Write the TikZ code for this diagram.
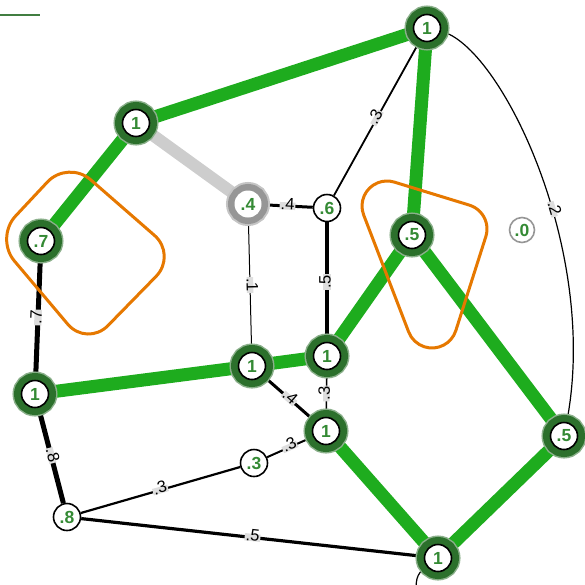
\documentclass[tikz,border=0pt]{standalone}
\usepackage{fontspec}
\setmainfont{Liberation Sans}
\usetikzlibrary{backgrounds}
\definecolor{edgegreen}{RGB}{30,172,30}
\definecolor{halogreen}{RGB}{44,112,44}
\definecolor{txtgreen}{RGB}{52,138,52}
\definecolor{ringorange}{RGB}{230,120,0}
\definecolor{edgegray}{RGB}{205,205,205}
\definecolor{halogray}{RGB}{150,150,150}
\definecolor{labgray}{RGB}{222,222,222}
\tikzset{
  vtx/.style = {circle, fill=white, draw=black, line width=1.6pt, minimum size=27pt, inner sep=0pt, text=txtgreen, font=\fontsize{17.5}{17.5}\selectfont\bfseries},
  hot/.style = {vtx, preaction={draw=halogreen!55, line width=18pt}, preaction={draw=halogreen, line width=15pt}},
  dim/.style = {vtx, draw=none, preaction={draw=halogray!55, line width=17pt}, preaction={draw=halogray, line width=13pt}},
  void/.style = {vtx, draw=halogray, line width=1.6pt, minimum size=25pt},
  tie/.style = {edgegreen, line width=13pt},
  fade/.style = {edgegray, line width=12pt},
  lab/.style = {sloped, fill=labgray, inner xsep=1pt, inner ysep=0pt, text height=7.3pt, text depth=-4.3pt, text=black, font=\fontsize{16.5}{16.5}\selectfont},
  tlab/.style = {lab, text height=6.6pt, text depth=-5.2pt},
  group/.style = {ringorange, line width=3pt}
}
\begin{document}
\begin{tikzpicture}[x=1pt, y=-1pt]
\useasboundingbox (0,0) rectangle (585,584);
\clip (0,0) rectangle (585,584);
\draw[halogreen!90, line width=2pt] (0,15) -- (40,15);
% vertices
\node[hot] (A) at (427,28) {1};
\node[hot] (B) at (136,123) {1};
\node[dim] (C) at (248,204) {.4};
\node[vtx] (D) at (327,208) {.6};
\node[hot] (E) at (412,235) {.5};
\node[void] (F) at (522,230) {.0};
\node[hot] (G) at (41,241) {.7};
\node[hot] (H) at (252,366) {1};
\node[hot] (I) at (327,356) {1};
\node[hot] (J) at (35,394) {1};
\node[hot] (K) at (326,431) {1};
\node[hot] (L) at (564,436) {.5};
\node[vtx] (M) at (254,463) {.3};
\node[vtx] (N) at (67,517) {.8};
\node[hot] (O) at (438,558) {1};
% edges
\begin{scope}[on background layer]
\draw[tie] (A) -- (B);
\draw[tie] (A) -- (E);
\draw[tie] (B) -- (G);
\draw[tie] (J) -- (H);
\draw[tie] (H) -- (I);
\draw[tie] (I) -- (E);
\draw[tie] (E) -- (L);
\draw[tie] (K) -- (O);
\draw[tie] (O) -- (L);
\draw[fade] (B) -- (C);
\draw[line width=3pt] (C) -- node[lab]{.4} (D);
\draw[line width=1.8pt] (D) -- node[tlab]{.3} (A);
\draw[line width=4pt] (I) -- node[lab]{.5} (D);
\draw[line width=1pt] (H) -- node[tlab]{.1} (C);
\draw[line width=5pt] (J) -- node[lab]{.7} (G);
\draw[line width=5pt] (J) -- node[lab]{.8} (N);
\draw[line width=2.2pt] (N) -- node[tlab]{.3} (M);
\draw[line width=2pt] (M) -- node[tlab]{.3} (K);
\draw[line width=3pt] (H) -- node[lab]{.4} (K);
\draw[line width=1.6pt] (K) -- node[tlab]{.3} (I);
\draw[line width=3.2pt] (N) -- node[lab]{.5} (O);
\draw[line width=1.2pt] (A) .. controls (500,45) and (600,250) .. node[tlab, pos=0.59]{.2} (L);
\draw[line width=1.2pt] (O) .. controls (415,575) and (416,580) .. (416,600);
\end{scope}
% groups
\draw[group, rounded corners=30pt] (177,255) -- (87,347) -- (-5,238) -- (68,160) -- cycle;
\draw[group] (387,206) ++(-73:25) -- ++(75,23)
  arc[start angle=-73, end angle=17.7, radius=25] -- ++(-30,94)
  arc[start angle=17.7, end angle=158.9, radius=25] -- ++(-45,-117)
  arc[start angle=158.9, end angle=287, radius=25] -- cycle;
\end{tikzpicture}
\end{document}
